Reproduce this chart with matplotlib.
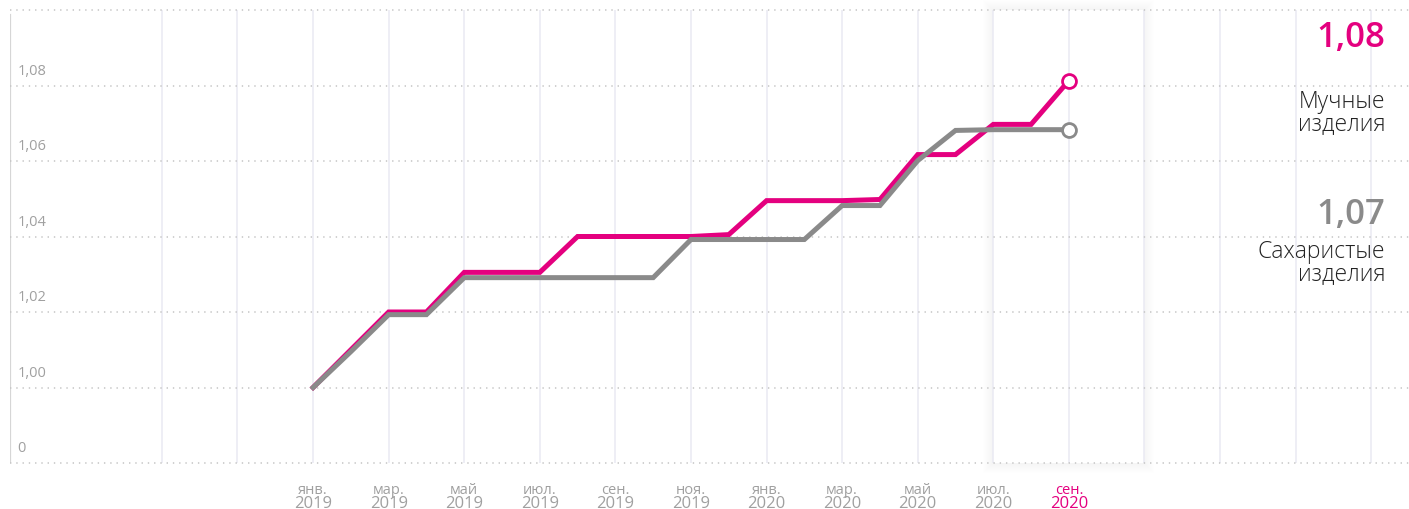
import matplotlib
matplotlib.use('Agg')
import matplotlib.pyplot as plt
from matplotlib.patches import Rectangle
import numpy as np

plt.rcParams['font.family'] = ['Open Sans', 'DejaVu Sans']

# monthly index, Jan 2019 .. Sep 2020
months = ['янв.', 'фев.', 'мар.', 'апр.', 'май', 'июн.', 'июл.', 'авг.', 'сен.', 'окт.', 'ноя.', 'дек.',
          'янв.', 'фев.', 'мар.', 'апр.', 'май', 'июн.', 'июл.', 'авг.', 'сен.']
years = ['2019'] * 12 + ['2020'] * 9
flour = [1.000, 1.010, 1.020, 1.020, 1.0305, 1.0305, 1.0305, 1.040, 1.040, 1.040, 1.040,
         1.0405, 1.0495, 1.0495, 1.0495, 1.0498, 1.0617, 1.0617, 1.0697, 1.0697, 1.0813]
sugar = [1.000, 1.0095, 1.0193, 1.0193, 1.0291, 1.0291, 1.0291, 1.0291, 1.0291, 1.0291, 1.0392,
         1.0392, 1.0392, 1.0392, 1.0482, 1.0482, 1.0601, 1.0681, 1.0683, 1.0683, 1.0683]
y_ticks = [0.98, 1.00, 1.02, 1.04, 1.06, 1.08, 1.10]
y_labels = ['0', '1,00', '1,02', '1,04', '1,06', '1,08', '']
series_names = ['Мучные\nизделия', 'Сахаристые\nизделия']
last_labels = ['1,08', '1,07']

PINK = '#e4007f'
GRAY = '#8a8a8a'
TXT = '#a0a0a0'

fig = plt.figure(figsize=(14.09, 5.10), dpi=100)
ax = fig.add_axes([10 / 1409, 46 / 510, 1399 / 1409, 453 / 510])
ax.set_xlim(-8.02, 29.0)
ax.set_ylim(0.98, 1.10)
ax.set_xticks([])
ax.set_yticks([])
for s in ax.spines.values():
    s.set_visible(False)

x = np.arange(len(months))
px = 1 / 37.8  # one pixel in month units
xt = ax.get_xaxis_transform()

# highlighted current period with a soft shadow
for k in range(10, 0, -1):
    ax.add_patch(Rectangle((18 - k * px, -k / 453), 4 + 2 * k * px, 1 + 2 * k / 453,
                           transform=xt, color='#000000', alpha=0.0025, lw=0,
                           zorder=0.2, clip_on=False))
ax.add_patch(Rectangle((18, 0), 4, 1, transform=xt, color='white', lw=0, zorder=0.3))

# grid
for gx in range(-4, 29, 2):
    ax.axvline(gx, color='#ebebf3', lw=1.2, zorder=0.5)
ax.axvline(-8.02, color='#d6d6d6', lw=1.6, ymin=0, ymax=0.99, zorder=0.6)
for gy in y_ticks:
    ax.axhline(gy, color='#c4c4c4', lw=1.1, ls=(0, (0.9, 3.2)), zorder=0.6, clip_on=False)

for gy, lab in zip(y_ticks, y_labels):
    ax.text(-7.83, gy + 0.0041, lab, ha='left', va='center', fontsize=10.5, color=TXT)

# x labels every two months
for i in range(0, len(months), 2):
    c = PINK if i == len(months) - 1 else TXT
    ax.text(i, -0.058, months[i], transform=xt, ha='center', va='center', fontsize=10.5, color=c)
    ax.text(i, -0.088, years[i], transform=xt, ha='center', va='center', fontsize=12, color=c)

# lines
ax.plot(x, flour, color=PINK, lw=3.6, solid_joinstyle='miter', zorder=3)
ax.plot(x, sugar, color=GRAY, lw=3.6, solid_joinstyle='miter', zorder=3.1)
ax.plot(x[-1], flour[-1], 'o', ms=10, mfc='white', mec=PINK, mew=2, zorder=4)
ax.plot(x[-1], sugar[-1], 'o', ms=10, mfc='white', mec=GRAY, mew=2, zorder=4)

# right-side summary
fig.text(1385 / 1409, 1 - 38 / 510, last_labels[0], ha='right', va='center',
         fontsize=25, color=PINK, fontweight='semibold')
fig.text(1385 / 1409, 1 - 113 / 510, series_names[0], ha='right', va='center', ma='right',
         fontsize=16.5, color='#222222', linespacing=0.9, fontweight='light')
fig.text(1385 / 1409, 1 - 215 / 510, last_labels[1], ha='right', va='center',
         fontsize=25, color=GRAY, fontweight='semibold')
fig.text(1385 / 1409, 1 - 263 / 510, series_names[1], ha='right', va='center', ma='right',
         fontsize=16.5, color='#222222', linespacing=0.9, fontweight='light')

fig.savefig('out.png', dpi=100, facecolor='white')
